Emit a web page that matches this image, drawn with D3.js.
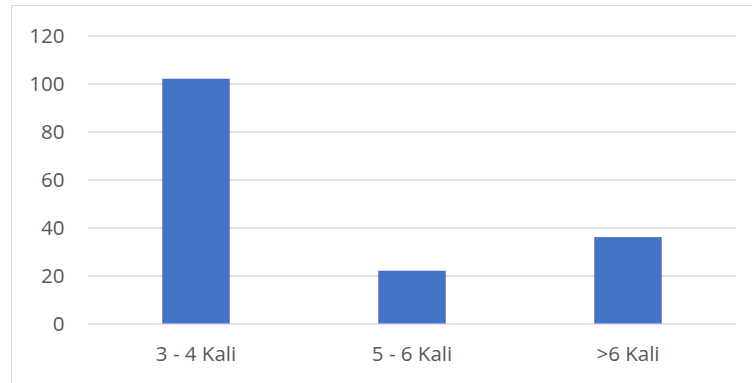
<!DOCTYPE html>
<html><head><meta charset="utf-8">
<script src="https://cdn.jsdelivr.net/npm/d3@7"></script>
<style>html,body{margin:0;padding:0;background:#fff;}svg{display:block;}</style>
</head><body>
<svg id="c" width="752" height="383"></svg>
<script>
const categories = ["3 - 4 Kali", "5 - 6 Kali", ">6 Kali"];
const values = [102, 22, 36];
const yTicks = [0, 20, 40, 60, 80, 100, 120];

const W = 752, H = 383;
const svg = d3.select("#c");
const m = {left: 88, right: 16, top: 35.5, bottom: 59.5};
const font = "'Open Sans', sans-serif";

svg.append("rect").attr("x", 11.5).attr("y", 5.5).attr("width", 760).attr("height", 400)
  .attr("fill", "#fff").attr("stroke", "#d9d9d9").attr("stroke-width", 1);

const x = d3.scaleBand().domain(categories).range([m.left, W - m.right]).paddingInner(0.6875).paddingOuter(0.34375);
const y = d3.scaleLinear().domain([0, 120]).range([H - m.bottom, m.top]);

const yAxis = svg.append("g").attr("transform", `translate(${m.left},0)`)
  .call(d3.axisLeft(y).tickValues(yTicks).tickSize(-(W - m.right - m.left)).tickPadding(23.5));
yAxis.select(".domain").remove();
yAxis.selectAll(".tick line").attr("stroke", "#d9d9d9").attr("stroke-width", 1.5);
yAxis.selectAll(".tick text").attr("fill", "#595959").attr("font-family", font).attr("font-size", 20.5);

svg.selectAll(".bar").data(values).join("rect").attr("class", "bar")
  .attr("x", (d, i) => x(categories[i])).attr("width", x.bandwidth())
  .attr("y", d => y(d)).attr("height", d => y(0) - y(d)).attr("fill", "#4472c4");

const xAxis = svg.append("g").attr("transform", `translate(0,${y(0)})`)
  .call(d3.axisBottom(x).tickSize(0).tickPadding(23));
xAxis.select(".domain").remove();
xAxis.selectAll(".tick text").attr("fill", "#595959").attr("font-family", font).attr("font-size", 20.5);
</script>
</body></html>
